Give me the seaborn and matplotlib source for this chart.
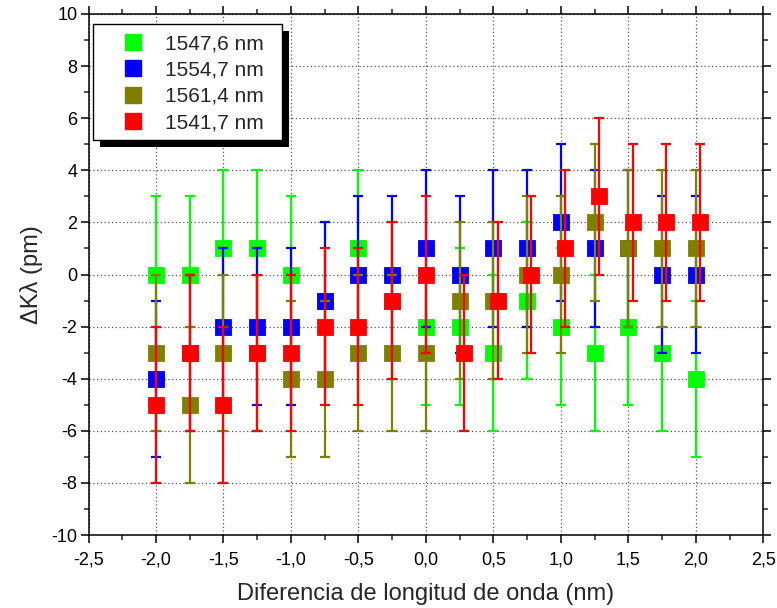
import numpy as np
import pandas as pd
import matplotlib
matplotlib.use("Agg")
import matplotlib.pyplot as plt
from matplotlib.ticker import MultipleLocator, FuncFormatter
from matplotlib.patches import Rectangle
import seaborn as sns

# ---------------------------------------------------------------------------
# Data
# ---------------------------------------------------------------------------
x_base = [-2.0, -1.75, -1.5, -1.25, -1.0, -0.75, -0.5, -0.25, 0.0,
          0.25, 0.5, 0.75, 1.0, 1.25, 1.5, 1.75, 2.0]
x_red = [-2.0, -1.75, -1.5, -1.25, -1.0, -0.75, -0.5, -0.25, 0.0,
         0.28, 0.53, 0.78, 1.03, 1.28, 1.53, 1.78, 2.03]

green_vals = [0, 0, 1, 1, 0, -1, 1, -1, -2, -2, -3, -1, -2, -3, -2, -3, -4]
blue_vals = [-4, -3, -2, -2, -2, -1, 0, 0, 1, 0, 1, 1, 2, 1, 1, 0, 0]
olive_vals = [-3, -5, -3, -3, -4, -4, -3, -3, -3, -1, -1, 0, 0, 2, 1, 1, 1]
red_vals = [-5, -3, -5, -3, -3, -2, -2, -1, 0, -3, -1, 0, 1, 3, 2, 2, 2]

err = 3  # symmetric error, pm

labels = ["1547,6 nm", "1554,7 nm", "1561,4 nm", "1541,7 nm"]
colors = ["#00FF00", "#0000FF", "#808000", "#FF0000"]

series = [
    (labels[0], x_base, green_vals),
    (labels[1], x_base, blue_vals),
    (labels[2], x_base, olive_vals),
    (labels[3], x_red, red_vals),
]

df = pd.concat(
    [pd.DataFrame({"x": xs, "y": ys, "serie": name}) for name, xs, ys in series],
    ignore_index=True,
)

# ---------------------------------------------------------------------------
# Style
# ---------------------------------------------------------------------------
sns.set_style("ticks")
plt.rcParams["font.family"] = ["Liberation Sans", "DejaVu Sans"]

fig = plt.figure(figsize=(7.77, 6.08), dpi=100)
ax = fig.add_axes([0.1139, 0.120, 0.8687, 0.857])

palette = dict(zip(labels, colors))

for i, (name, xs, ys) in enumerate(series):
    ax.errorbar(xs, ys, yerr=err, fmt="none", ecolor=palette[name],
                elinewidth=1.6, capsize=3.6, capthick=1.6, zorder=3 + 2 * i)
    sub = df[df["serie"] == name]
    sns.scatterplot(data=sub, x="x", y="y", color=palette[name], marker="s",
                    s=135, linewidth=0.6, edgecolor=palette[name],
                    ax=ax, zorder=4 + 2 * i, legend=False)

# Axes, ticks, grid
ax.set_xlim(-2.5, 2.5)
ax.set_ylim(-10, 10)
ax.xaxis.set_major_locator(MultipleLocator(0.5))
ax.xaxis.set_minor_locator(MultipleLocator(0.25))
ax.yaxis.set_major_locator(MultipleLocator(2))
ax.yaxis.set_minor_locator(MultipleLocator(1))
ax.xaxis.set_major_formatter(FuncFormatter(lambda v, p: f"{v:.1f}".replace(".", ",")))
ax.yaxis.set_major_formatter(FuncFormatter(lambda v, p: f"{v:.0f}"))

ax.tick_params(which="major", direction="out", length=6, width=1.1,
               labelsize=13, colors="black", top=True, right=True)
ax.tick_params(axis="x", which="major", pad=6)
ax.tick_params(axis="y", which="major", pad=2)
ax.tick_params(which="minor", direction="out", length=3.5, width=1.1,
               top=True, right=True)
for sp in ax.spines.values():
    sp.set_visible(True)
    sp.set_linewidth(1.1)
    sp.set_color("black")

ax.grid(True, which="major", linestyle=(0, (1, 2)), color="#555555",
        linewidth=0.9, zorder=0)
ax.set_axisbelow(True)

ax.set_xlabel("Diferencia de longitud de onda (nm)", fontsize=17, labelpad=10)
ax.set_ylabel("ΔKλ (pm)", fontsize=17, labelpad=6)

# Legend: drawn frameless, with a hand-made box and hard black drop shadow
handles = [plt.Line2D([], [], marker="s", linestyle="none", markersize=12,
                      markerfacecolor=c, markeredgecolor=c) for c in colors]
leg = ax.legend(handles, labels, loc="upper left", bbox_to_anchor=(0.023, 0.977),
                fontsize=15, frameon=False, handletextpad=0.53,
                labelspacing=0.35, borderpad=0.4, handlelength=2.0,
                borderaxespad=0.0)
leg.set_zorder(21)

box_x0, box_x1 = 0.0067, 0.2867
box_y0, box_y1 = 0.7582, 0.9808
shadow = Rectangle((box_x0 + 0.0104, box_y0 - 0.0134), box_x1 - box_x0,
                   box_y1 - box_y0, transform=ax.transAxes, facecolor="black",
                   edgecolor="none", zorder=19, clip_on=False)
frame = Rectangle((box_x0, box_y0), box_x1 - box_x0, box_y1 - box_y0,
                  transform=ax.transAxes, facecolor="white", edgecolor="black",
                  linewidth=1.0, zorder=20, clip_on=False)
ax.add_patch(shadow)
ax.add_patch(frame)

fig.savefig("out.png", dpi=100)
